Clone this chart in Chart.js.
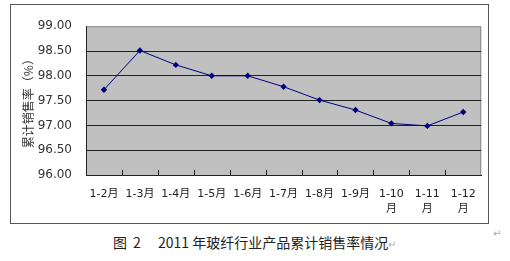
<!DOCTYPE html>
<html>
<head>
<meta charset="utf-8">
<script src="https://cdn.jsdelivr.net/npm/chart.js@4/dist/chart.umd.min.js"></script>
<style>
    body { margin: 0; background: #fff; width: 510px; height: 261px; position: relative; overflow: hidden; }
    #box { position: absolute; left: 10px; top: 4px; width: 477px; height: 218px; border: 1px solid #555; }
    #caption { position: absolute; left: 113px; top: 232px; font: 14px "Noto Sans CJK SC", sans-serif; color: #222; white-space: pre; }
    .mark { color: #aaa; font-size: 10px; }
    .gap { margin-left: 6px; }
    #endmark { position: absolute; left: 493px; top: 228px; color: #aaa; font: 10px "DejaVu Sans", sans-serif; }
</style>
</head>
<body>
<div id="box"><canvas id="chartSales" width="477" height="218"></canvas></div>
<div id="endmark">↵</div>
<div id="caption">图<span class="gap">2</span>　 2011 年玻纤行业产品累计销售率情况<span class="mark">↵</span></div>
<script>
// 月份区间
var months = ['1-2月', '1-3月', '1-4月', '1-5月', '1-6月', '1-7月', '1-8月', '1-9月', ['1-10', '月'], ['1-11', '月'], ['1-12', '月']];
// 累计销售率(%)
var sales_rate = [97.72, 98.51, 98.22, 98.00, 98.00, 97.78, 97.51, 97.31, 97.04, 96.99, 97.27];
var y_min = 96.0;
var y_max = 99.0;
var y_step = 0.5;

// 绘图区灰色背景 + 内向刻度线
var plotArea = {
    id: 'plotArea',
    beforeDraw: function (chart) {
        var a = chart.chartArea;
        var ctx = chart.ctx;
        ctx.save();
        ctx.fillStyle = '#c0c0c0';
        ctx.fillRect(a.left, a.top, a.right - a.left, a.bottom - a.top);
        ctx.strokeStyle = '#8a8a8a';
        ctx.lineWidth = 1;
        ctx.beginPath();
        ctx.moveTo(a.left, a.top + 0.5);
        ctx.lineTo(a.right - 0.5, a.top + 0.5);
        ctx.lineTo(a.right - 0.5, a.bottom);
        ctx.stroke();
        ctx.restore();
    },
    afterDatasetsDraw: function (chart) {
        var xs = chart.scales.x;
        var a = chart.chartArea;
        var ctx = chart.ctx;
        ctx.save();
        ctx.strokeStyle = '#222';
        ctx.lineWidth = 1;
        ctx.beginPath();
        for (var i = 0; i < months.length - 1; i++) {
            var x = Math.round(xs.getPixelForValue(i + 0.5)) + 0.5;
            ctx.moveTo(x, a.bottom);
            ctx.lineTo(x, a.bottom - 5);
        }
        ctx.stroke();
        ctx.restore();
    }
};

var ctx_sales = document.getElementById('chartSales').getContext('2d');
var chart_sales = new Chart(ctx_sales, {
    type: 'line',
    data: {
        labels: months,
        datasets: [{
            label: '累计销售率',
            data: sales_rate,
            borderColor: '#000080',
            backgroundColor: '#000080',
            borderWidth: 1,
            pointStyle: 'rectRot',
            pointRadius: 3.2,
            pointBorderWidth: 0,
            tension: 0
        }]
    },
    options: {
        responsive: false,
        animation: false,
        layout: { padding: { top: 13, right: 6, left: 0, bottom: 0 } },
        plugins: {
            legend: { display: false },
            tooltip: { enabled: false }
        },
        scales: {
            x: {
                offset: true,
                grid: { display: false, drawTicks: false },
                border: { display: true, color: '#222', width: 1 },
                ticks: {
                    maxRotation: 0,
                    autoSkip: false,
                    padding: 12,
                    color: '#222',
                    font: { family: 'DejaVu Sans, "Noto Sans CJK SC"', size: 11, lineHeight: 1.35 }
                },
                afterFit: function (scale) { scale.height = 48; }
            },
            y: {
                min: y_min,
                max: y_max,
                ticks: {
                    stepSize: y_step,
                    padding: 14,
                    color: '#333',
                    font: { family: 'DejaVu Sans', size: 12 },
                    callback: function (value) { return value.toFixed(2); }
                },
                grid: {
                    drawTicks: false,
                    color: function (c) {
                        return c.tick.value === y_max ? 'rgba(0,0,0,0)' : '#222';
                    },
                    lineWidth: 1
                },
                border: { display: true, color: '#222', width: 1 },
                title: {
                    display: true,
                    text: '累计销售率（%）',
                    color: '#333',
                    padding: { top: 10, bottom: 0 },
                    font: { family: '"Noto Sans CJK SC"', size: 12 }
                },
                afterFit: function (scale) { scale.width = 75; }
            }
        }
    },
    plugins: [plotArea]
});
</script>
</body>
</html>
